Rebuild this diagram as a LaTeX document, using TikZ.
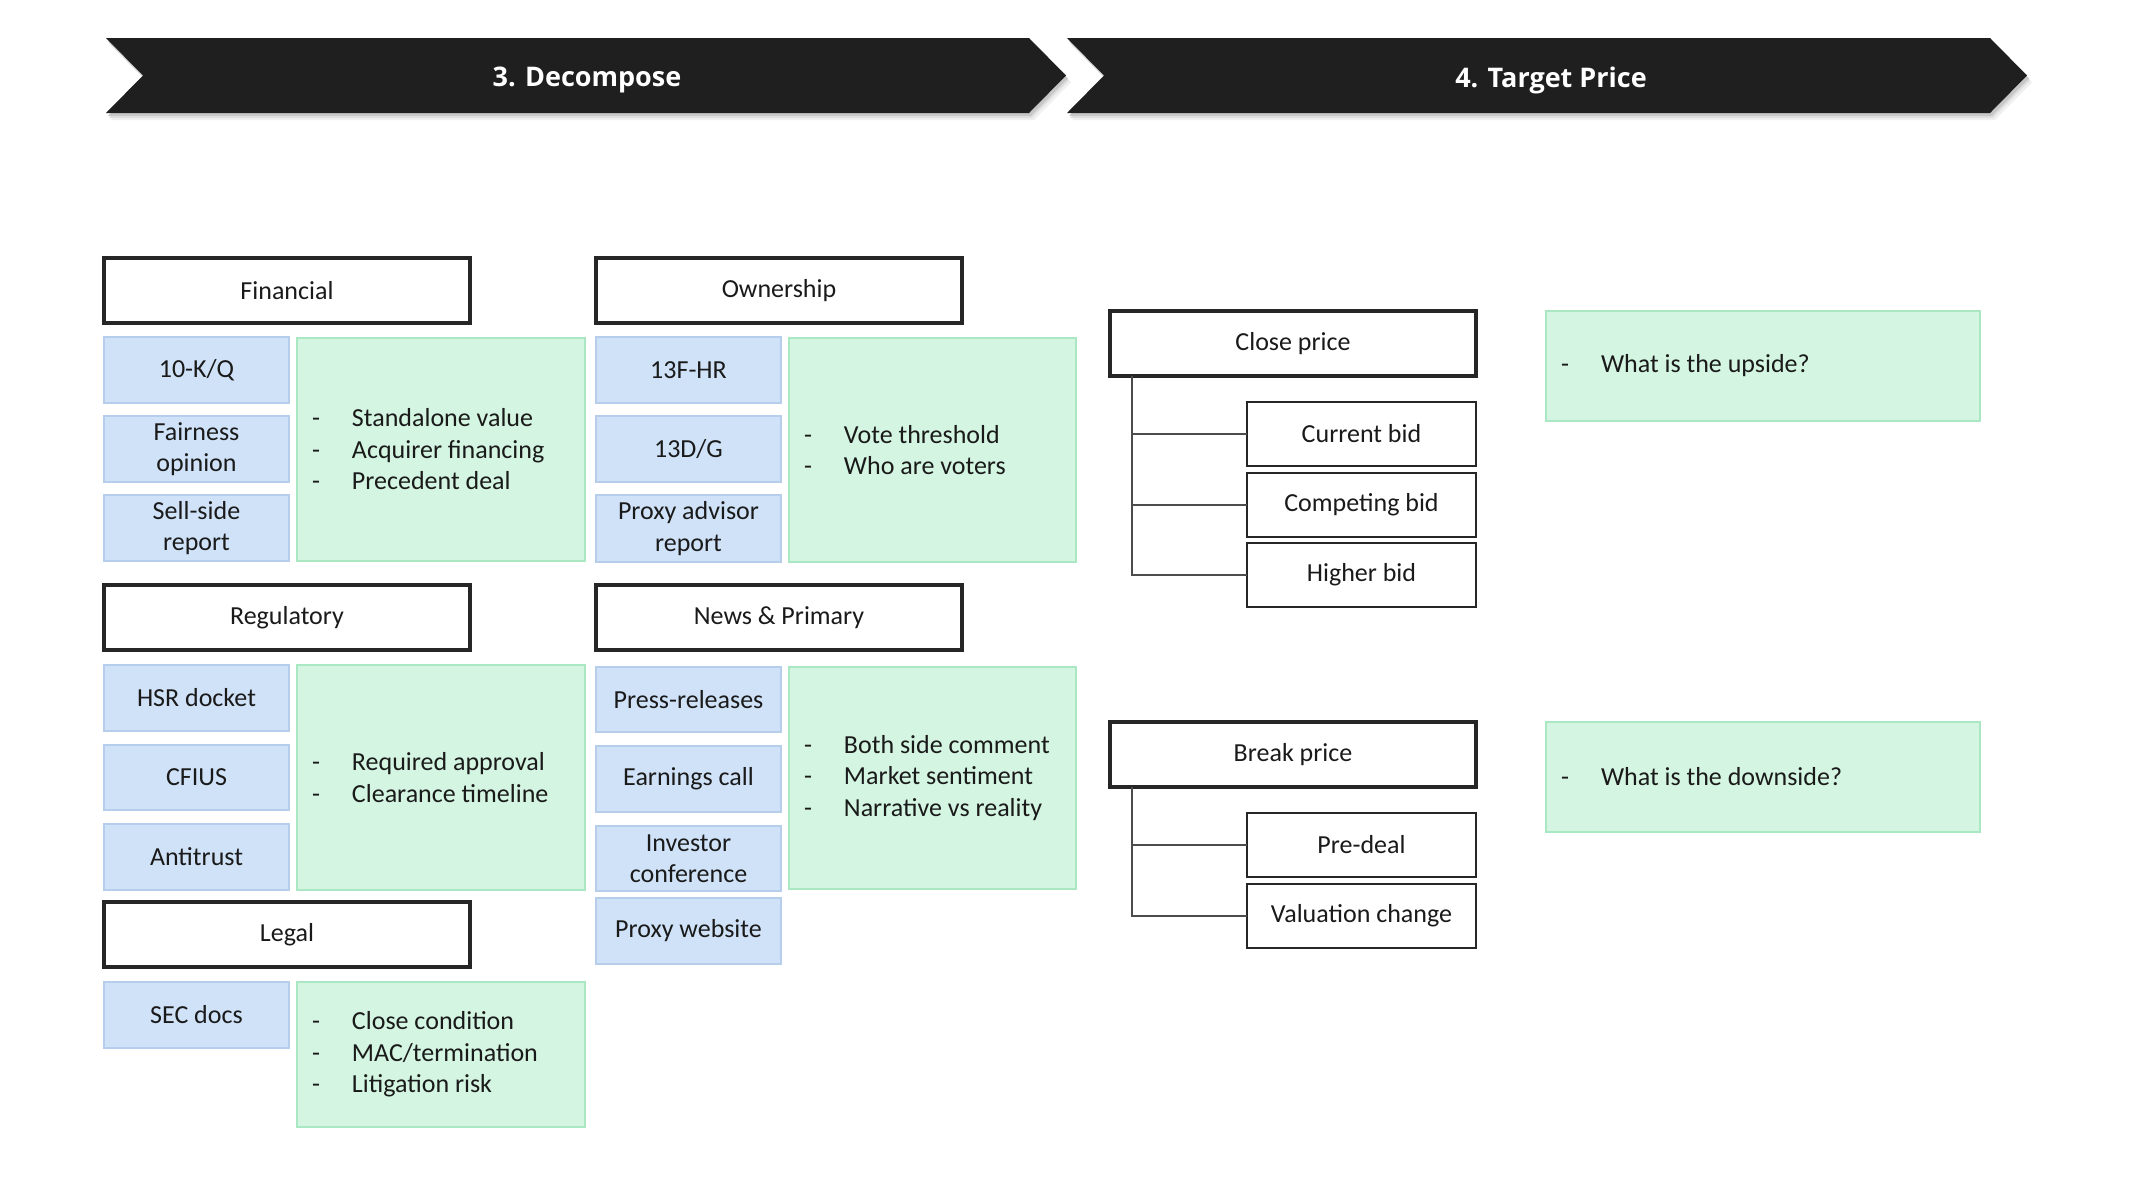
\documentclass[tikz,border=0pt]{standalone}
\usepackage{fontspec}
\setmainfont{Carlito}
\newfontfamily\hdrfont{Open Sans}
\definecolor{blueF}{HTML}{CFE2F8}
\definecolor{blueD}{HTML}{B6CEEC}
\definecolor{greenF}{HTML}{D3F5E1}
\definecolor{greenD}{HTML}{A9E8C3}
\definecolor{ink}{HTML}{1F1F1F}
\definecolor{boxline}{HTML}{262626}
\definecolor{txt}{HTML}{1A1A1A}
\newcommand\fs{\fontsize{26}{31.5}\selectfont}
\newcommand\dl{\makebox[40pt][l]{-}}
\newcommand\boxat[7]{\node[#2, minimum width={#5-#3}, minimum height={#6-#4}] (#1) at ({(#3+#5)/2},{(#4+#6)/2}) {#7};}
\tikzset{
  base/.style={inner sep=0pt, outer sep=0pt, font=\fs, text=txt},
  hdrbox/.style={base, draw=boxline, line width=3.5pt, fill=white},
  srcbox/.style={base, draw=blueD, line width=2.5pt, fill=blueF, align=center},
  notebox/.style={base, draw=greenD, line width=2.5pt, fill=greenF},
  subbox/.style={base, draw=boxline, line width=1.8pt, fill=white},
  notetext/.style={base, anchor=west, align=left},
  treeline/.style={draw=black!70, line width=1.5pt},
  chev/.style={fill=ink},
  chevshadow/.style={fill=black!#1},
  titletext/.style={inner sep=0pt, text=white, font=\hdrfont\bfseries\fontsize{27}{32}\selectfont}
}
\begin{document}
\begin{tikzpicture}[x=1pt,y=-1pt]
\useasboundingbox (0,0) rectangle (2134,1200);
\fill[white] (0,0) rectangle (2134,1200);

% chevron shadows
\foreach \dx/\dy/\c in {5/7/6,3/5/12,2/3/22}{
  \fill[chevshadow=\c, shift={(\dx,\dy)}] (106,38) -- (1029,38) -- (1066,75.5) -- (1029,113) -- (106,113) -- (143,75.5) -- cycle;
  \fill[chevshadow=\c, shift={(\dx,\dy)}] (1067,38) -- (1990,38) -- (2027,75.5) -- (1990,113) -- (1067,113) -- (1104,75.5) -- cycle;
}
% chevrons
\fill[chev] (106,38) -- (1029,38) -- (1066,75.5) -- (1029,113) -- (106,113) -- (143,75.5) -- cycle;
\fill[chev] (1067,38) -- (1990,38) -- (2027,75.5) -- (1990,113) -- (1067,113) -- (1104,75.5) -- cycle;
\node[titletext] (t3) at (587,80) {3. Decompose};
\node[titletext] (t4) at (1551,80) {4. Target Price};

% Financial
\boxat{fin}{hdrbox}{104}{258}{470}{323}{Financial}
\boxat{tenk}{srcbox}{104}{337}{289}{403}{10-K/Q}
\boxat{fair}{srcbox}{104}{416}{289}{482}{Fairness\\opinion}
\boxat{sell}{srcbox}{104}{495}{289}{561}{Sell-side\\report}
\boxat{finn}{notebox}{297}{338}{585}{561}{}
\node[notetext] (finnt) at ([xshift=15pt]finn.west) {\dl Standalone value\\\dl Acquirer financing\\\dl Precedent deal};

% Ownership
\boxat{own}{hdrbox}{596}{258}{962}{323}{Ownership}
\boxat{thf}{srcbox}{596}{337}{781}{403}{13F-HR}
\boxat{thd}{srcbox}{596}{416}{781}{482}{13D/G}
\boxat{pxa}{srcbox}{596}{495}{781}{562}{Proxy advisor\\report}
\boxat{ownn}{notebox}{789}{338}{1076}{562}{}
\node[notetext] (ownnt) at ([xshift=15pt]ownn.west) {\dl Vote threshold\\\dl Who are voters};

% Regulatory
\boxat{reg}{hdrbox}{104}{585}{470}{650}{Regulatory}
\boxat{hsr}{srcbox}{104}{665}{289}{731}{HSR docket}
\boxat{cfius}{srcbox}{104}{745}{289}{810}{CFIUS}
\boxat{anti}{srcbox}{104}{824}{289}{890}{Antitrust}
\boxat{regn}{notebox}{297}{665}{585}{890}{}
\node[notetext] (regnt) at ([xshift=15pt]regn.west) {\dl Required approval\\\dl Clearance timeline};

% Legal
\boxat{leg}{hdrbox}{104}{902}{470}{967}{Legal}
\boxat{sec}{srcbox}{104}{982}{289}{1048}{SEC docs}
\boxat{legn}{notebox}{297}{982}{585}{1127}{}
\node[notetext] (legnt) at ([xshift=15pt]legn.west) {\dl Close condition\\\dl MAC/termination\\\dl Litigation risk};

% News & Primary
\boxat{news}{hdrbox}{596}{585}{962}{650}{News \& Primary}
\boxat{press}{srcbox}{596}{667}{781}{732}{Press-releases}
\boxat{earn}{srcbox}{596}{746}{781}{812}{Earnings call}
\boxat{inv}{srcbox}{596}{826}{781}{891}{Investor\\conference}
\boxat{pxw}{srcbox}{596}{898}{781}{964}{Proxy website}
\boxat{newsn}{notebox}{789}{667}{1076}{889}{}
\node[notetext] (newsnt) at ([xshift=15pt]newsn.west) {\dl Both side comment\\\dl Market sentiment\\\dl Narrative vs reality};

% Close price tree
\boxat{close}{hdrbox}{1110}{311}{1476}{376}{Close price}
\boxat{cur}{subbox}{1247}{402}{1476}{466}{Current bid}
\boxat{comp}{subbox}{1247}{473}{1476}{537}{Competing bid}
\boxat{high}{subbox}{1247}{543}{1476}{607}{Higher bid}
\coordinate (ct) at ([xshift=22pt]close.south west);
\draw[treeline] (ct) |- (high.west);
\draw[treeline] (ct) |- (comp.west);
\draw[treeline] (ct) |- (cur.west);

% Break price tree
\boxat{brk}{hdrbox}{1110}{722}{1476}{787}{Break price}
\boxat{pre}{subbox}{1247}{813}{1476}{877}{Pre-deal}
\boxat{val}{subbox}{1247}{884}{1476}{948}{Valuation change}
\coordinate (bt) at ([xshift=22pt]brk.south west);
\draw[treeline] (bt) |- (val.west);
\draw[treeline] (bt) |- (pre.west);

% Upside / downside
\boxat{up}{notebox}{1546}{311}{1980}{421}{}
\node[notetext] (upt) at ([xshift=15pt]up.west) {\dl What is the upside?};
\boxat{down}{notebox}{1546}{722}{1980}{832}{}
\node[notetext] (downt) at ([xshift=15pt]down.west) {\dl What is the downside?};
\end{tikzpicture}
\end{document}
